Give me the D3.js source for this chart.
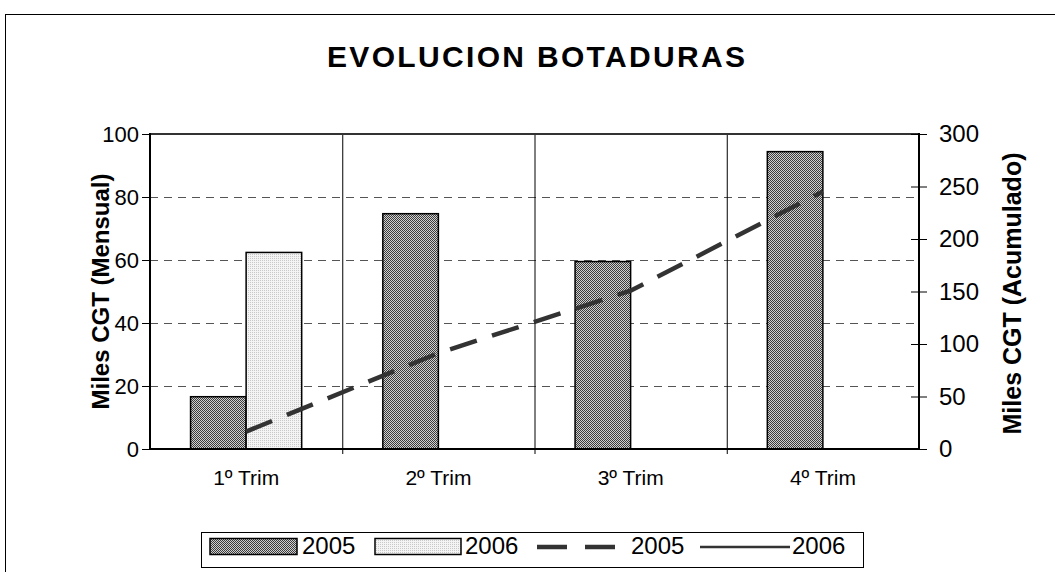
<!DOCTYPE html>
<html><head><meta charset="utf-8">
<script src="https://cdn.jsdelivr.net/npm/d3@7"></script>
<style>
html,body{margin:0;padding:0;background:#fff;overflow:hidden}
text{font-family:"Liberation Sans",Arial,sans-serif;fill:#000}
</style></head>
<body>
<svg id="c" width="1055" height="572"></svg>
<script>
const categories = ["1º Trim","2º Trim","3º Trim","4º Trim"];
const series = ["2005","2006"];
const bars2005 = [16.6, 74.7, 59.5, 94.4];
const bars2006 = [62.4, null, null, null];
const cum2005 = [16.6, 91.3, 150.8, 245.2];
const cum2006 = [62.4, null, null, null];
const leftTicks = [0,20,40,60,80,100];
const rightTicks = [0,50,100,150,200,250,300];
const title = "EVOLUCION BOTADURAS";
const leftTitle = "Miles CGT (Mensual)";
const rightTitle = "Miles CGT (Acumulado)";

const svg = d3.select("#c");
const P = {l:150, r:919, t:134, b:449};

// patterns
const defs = svg.append("defs");
const p1 = defs.append("pattern").attr("id","pat05").attr("width",2).attr("height",2).attr("patternUnits","userSpaceOnUse");
p1.append("rect").attr("width",2).attr("height",2).attr("fill","#d0d0d0");
p1.append("rect").attr("width",1).attr("height",1).attr("fill","#3c3c3c");
p1.append("rect").attr("x",1).attr("y",1).attr("width",1).attr("height",1).attr("fill","#3c3c3c");
const p2 = defs.append("pattern").attr("id","pat06").attr("width",2).attr("height",2).attr("patternUnits","userSpaceOnUse");
p2.append("rect").attr("width",2).attr("height",2).attr("fill","#f4f4f4");
p2.append("rect").attr("width",1).attr("height",1).attr("fill","#c8c8c8");
const fills = {"2005":"url(#pat05)","2006":"url(#pat06)"};

// outer frame
svg.append("rect").attr("x",5.5).attr("y",14.5).attr("width",1100).attr("height",700)
  .attr("fill","none").attr("stroke","#000").attr("stroke-width",1);

svg.append("text").attr("x",536).attr("y",67).attr("text-anchor","middle")
  .attr("font-size",30).attr("font-weight","bold")
  .attr("textLength",418).attr("lengthAdjust","spacing").text(title);

const x = d3.scaleBand().domain(categories).range([P.l,P.r]);
const xs = d3.scaleBand().domain(series).range([0,x.bandwidth()]).paddingOuter(0.73).paddingInner(0);
const yL = d3.scaleLinear().domain([0,100]).range([P.b,P.t]);
const yR = d3.scaleLinear().domain([0,300]).range([P.b,P.t]);

// horizontal dashed grid
svg.append("g").selectAll("line").data(leftTicks.filter(d=>d>0&&d<100)).join("line")
  .attr("x1",P.l).attr("x2",P.r).attr("y1",d=>yL(d)+0.5).attr("y2",d=>yL(d)+0.5)
  .attr("stroke","#555").attr("stroke-width",1).attr("stroke-dasharray","8,6");
// vertical category separators
svg.append("g").selectAll("line").data(categories.slice(1)).join("line")
  .attr("x1",d=>x(d)+0.5).attr("x2",d=>x(d)+0.5).attr("y1",P.t).attr("y2",P.b+5)
  .attr("stroke","#000").attr("stroke-width",1);
// top border
svg.append("line").attr("x1",P.l).attr("x2",P.r).attr("y1",P.t).attr("y2",P.t).attr("stroke","#333").attr("stroke-width",2);

// bars
const barData = [];
categories.forEach((c,i)=>{
  if(bars2005[i]!=null) barData.push({c,s:"2005",v:bars2005[i]});
  if(bars2006[i]!=null) barData.push({c,s:"2006",v:bars2006[i]});
});
svg.append("g").selectAll("rect").data(barData).join("rect")
  .attr("x",d=>x(d.c)+xs(d.s)).attr("width",xs.bandwidth())
  .attr("y",d=>yL(d.v)).attr("height",d=>P.b-yL(d.v))
  .attr("fill",d=>fills[d.s]).attr("stroke","#000").attr("stroke-width",1.5);

// lines
const line = d3.line().defined(d=>d.v!=null).x(d=>x(d.c)+x.bandwidth()/2).y(d=>yR(d.v));
svg.append("path").datum(categories.map((c,i)=>({c,v:cum2005[i]})))
  .attr("d",line).attr("fill","none").attr("stroke","#333").attr("stroke-width",4.5).attr("stroke-dasharray","28,16");
svg.append("path").datum(categories.map((c,i)=>({c,v:cum2006[i]})))
  .attr("d",line).attr("fill","none").attr("stroke","#333").attr("stroke-width",2);

// axes
const axL = svg.append("g").attr("transform",`translate(${P.l},0)`)
  .call(d3.axisLeft(yL).tickValues(leftTicks).tickSize(8).tickPadding(3).tickFormat(d3.format("d")));
const axR = svg.append("g").attr("transform",`translate(${P.r},0)`)
  .call(d3.axisRight(yR).tickValues(rightTicks).tickSize(8).tickPadding(12).tickFormat(d3.format("d")));
axR.selectAll(".tick line").attr("x1",-8);
const axB = svg.append("g").attr("transform",`translate(0,${P.b})`)
  .call(d3.axisBottom(x).tickSize(0).tickPadding(21));
[axL,axR,axB].forEach(a=>{a.select(".domain").remove();a.selectAll("text").attr("font-family","Liberation Sans, Arial, sans-serif").attr("fill","#000");a.selectAll(".tick line").attr("stroke","#000");});
axL.selectAll("text").attr("font-size",22);
axR.selectAll("text").attr("font-size",24);
axB.selectAll("text").attr("font-size",21);
svg.append("line").attr("x1",P.l).attr("x2",P.l).attr("y1",P.t-1).attr("y2",P.b+1).attr("stroke","#000").attr("stroke-width",2);
svg.append("line").attr("x1",P.r).attr("x2",P.r).attr("y1",P.t-1).attr("y2",P.b+1).attr("stroke","#000").attr("stroke-width",2);
svg.append("line").attr("x1",P.l-1).attr("x2",P.r+1).attr("y1",P.b).attr("y2",P.b).attr("stroke","#000").attr("stroke-width",2);

// axis titles
svg.append("text").attr("transform",`translate(109,${(P.t+P.b)/2}) rotate(-90)`).attr("text-anchor","middle")
  .attr("font-size",24).attr("font-weight","bold").text(leftTitle);
svg.append("text").attr("transform",`translate(1021,${(P.t+P.b)/2+2}) rotate(-90)`).attr("text-anchor","middle")
  .attr("font-size",25).attr("font-weight","bold").text(rightTitle);

// legend
const lg = svg.append("g");
lg.append("rect").attr("x",201.5).attr("y",532.5).attr("width",662).attr("height",35).attr("fill","#fff").attr("stroke","#000").attr("stroke-width",1);
const legItems = [
  {type:"bar",s:"2005",x0:210,x1:297,tx:302},
  {type:"bar",s:"2006",x0:375,x1:461,tx:465},
  {type:"dash",s:"2005",x0:537,x1:615,tx:631},
  {type:"solid",s:"2006",x0:700,x1:790,tx:792}
];
legItems.forEach(it=>{
  if(it.type==="bar"){
    lg.append("rect").attr("x",it.x0).attr("y",538.5).attr("width",it.x1-it.x0).attr("height",16)
      .attr("fill",fills[it.s]).attr("stroke","#000").attr("stroke-width",1.5);
  } else {
    lg.append("line").attr("x1",it.x0).attr("x2",it.x1).attr("y1",547).attr("y2",547)
      .attr("stroke","#333").attr("stroke-width",it.type==="dash"?4.5:2.5)
      .attr("stroke-dasharray",it.type==="dash"?"30,18":null);
  }
  lg.append("text").attr("x",it.tx).attr("y",554).attr("font-size",24).text(it.s);
});
</script>
</body></html>
